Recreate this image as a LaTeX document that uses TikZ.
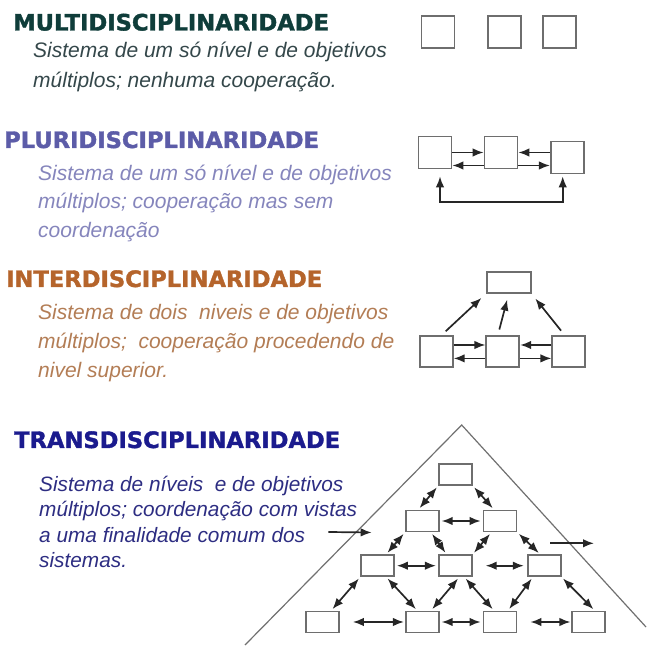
\documentclass[tikz,border=0pt]{standalone}
\usepackage{fontspec}
\usepackage{tikz}
\usetikzlibrary{shapes,arrows.meta}
\usetikzlibrary{calc}
\newfontfamily\headfont[FakeBold=1.6]{DejaVu Sans Bold}
\newfontfamily\bodyfont{Liberation Sans}
\definecolor{multihead}{HTML}{0F3D3A}
\definecolor{multibody}{HTML}{34474A}
\definecolor{plurihead}{HTML}{5C5CA8}
\definecolor{pluribody}{HTML}{8585BC}
\definecolor{interhead}{HTML}{B5642B}
\definecolor{interbody}{HTML}{B37D55}
\definecolor{transhead}{HTML}{1B1B8E}
\definecolor{transbody}{HTML}{2D2D82}
\definecolor{boxgray}{HTML}{6E6E6E}
\definecolor{arrowgray}{HTML}{262626}
\definecolor{edgegray}{HTML}{707070}
\tikzstyle{heading} = [anchor=base west, inner sep=0pt,
    font=\headfont\fontsize{22.6}{24}\selectfont]
\tikzstyle{desc} = [anchor=base west, inner sep=0pt, align=left,
    font=\bodyfont\itshape\fontsize{21}{30}\selectfont]
\tikzstyle{sqbox} = [rectangle, draw=boxgray, line width=1.7pt,
    minimum width=33pt, minimum height=32pt, inner sep=0pt]
\tikzstyle{flatbox} = [sqbox, minimum height=21pt]
\tikzstyle{line} = [draw, arrowgray, line width=1.7pt, -{Latex[length=11pt,width=8.5pt]}]
\tikzstyle{both} = [draw, arrowgray, line width=1.7pt, {Latex[length=11pt,width=8.5pt]}-{Latex[length=11pt,width=8.5pt]},
    shorten <=2pt, shorten >=2pt]
\tikzstyle{rim} = [draw, edgegray, line width=1.2pt]

\begin{document}
\begin{tikzpicture}[x=1pt, y=1pt]
    \useasboundingbox (0,0) rectangle (648,661);
    % Place nodes (text nodes sit on the baseline of their last line)
    \node [heading, text=multihead] (multi) at (13,630.5) {MULTIDISCIPLINARIDADE};
    \node [desc, text=multibody] (multitxt) at (33,573.5)
        {Sistema de um só nível e de objetivos\\ múltiplos; nenhuma cooperação.};
    \node [heading, text=plurihead] (pluri) at (4,513) {PLURIDISCIPLINARIDADE};
    \node [desc, text=pluribody, font=\bodyfont\itshape\fontsize{21}{28.5}\selectfont] (pluritxt) at (38,423.5)
        {Sistema de um só nível e de objetivos\\ múltiplos; cooperação mas sem\\ coordenação};
    \node [heading, text=interhead] (inter) at (6,374) {INTERDISCIPLINARIDADE};
    \node [desc, text=interbody, font=\bodyfont\itshape\fontsize{21}{29}\selectfont] (intertxt) at (38,283.5)
        {Sistema de dois~ niveis e de objetivos\\ múltiplos;~ cooperação procedendo de\\ nivel superior.};
    \node [heading, text=transhead] (trans) at (14,213) {TRANSDISCIPLINARIDADE};
    \node [desc, text=transbody, font=\bodyfont\itshape\fontsize{20.8}{25.5}\selectfont] (transtxt) at (39,93)
        {Sistema de níveis~ e de objetivos\\ múltiplos; coordenação com vistas\\ a uma finalidade comum dos\\ sistemas.};

    \node [sqbox] (m1) at (438,629.3) {};
    \node [sqbox, right of=m1, node distance=66.5pt] (m2) {};
    \node [sqbox, right of=m2, node distance=55.2pt] (m3) {};

    \node [sqbox] (p1) at (435,508.5) {};
    \node [sqbox, right of=p1, node distance=66pt] (p2) {};
    \node [sqbox] (p3) at (567.3,503.5) {};

    \node [sqbox, minimum height=31pt] (i1) at (436.3,309.3) {};
    \node [sqbox, minimum height=31pt, right of=i1, node distance=66.5pt] (i2) {};
    \node [sqbox, minimum height=31pt, right of=i2, node distance=66pt] (i3) {};
    \node [flatbox, minimum width=44pt] (i0) at (508.7,378.5) {};

    \coordinate (apex) at (461.7,236);
    \coordinate (footl) at (245,16);
    \coordinate (footr) at (646,34);
    \node [flatbox] (t1) at (455.5,186.5) {};
    \node [flatbox] (t2a) at (422.3,140) {};
    \node [flatbox, right of=t2a, node distance=77.7pt] (t2b) {};
    \node [flatbox] (t3a) at (377.5,95.3) {};
    \node [flatbox, right of=t3a, node distance=77.8pt] (t3b) {};
    \node [flatbox, right of=t3b, node distance=88.9pt] (t3c) {};
    \node [flatbox] (t4a) at (322.5,39) {};
    \node [flatbox, right of=t4a, node distance=99.8pt] (t4b) {};
    \node [flatbox, right of=t4b, node distance=77.7pt] (t4c) {};
    \node [flatbox, right of=t4c, node distance=88.8pt] (t4d) {};
    \coordinate (inl) at (328.3,129);
    \coordinate (inr) at (371.7,128.5);
    \coordinate (outl) at (550,117.7);
    \coordinate (outr) at (594,117.7);

    % Draw edges
    \path [line] (p1.east) -- (p2.west);
    \path [line] ($(p3.west)+(0,5)$) -- (p2.east);
    \path [line] ($(p2.west)+(0,-13)$) -- ($(p1.east)+(0,-13)$);
    \path [line] ($(p2.east)+(0,-13)$) -- ($(p3.west)+(0,-8)$);
    \path [both, shorten <=7pt, shorten >=2pt] ([xshift=5pt]p1.south) -- ++(0,-32.7) -| ([xshift=-4.6pt]p3.south);

    \path [line] ($(i1.east)+(0,6.7)$) -- ($(i2.west)+(0,6.7)$);
    \path [line] ($(i3.west)+(0,6.7)$) -- ($(i2.east)+(0,6.7)$);
    \path [line] ($(i2.west)+(0,-6.7)$) -- ($(i1.east)+(0,-6.7)$);
    \path [line] ($(i2.east)+(0,-6.7)$) -- ($(i3.west)+(0,-6.7)$);
    \path [line, shorten <=6pt, shorten >=6pt] ([xshift=5pt]i1.north) -- (i0.south west);
    \path [line, shorten <=6pt, shorten >=6pt] ([xshift=-5pt]i2.north) -- (i0.south);
    \path [line, shorten <=6pt, shorten >=6pt] ([xshift=-4pt]i3.north) -- (i0.south east);

    \draw [rim] (footl) -- (apex) -- (footr);
    \path [line] (inl) -- (inr);
    \path [line] (outl) -- (outr);
    \path [both] (t1.south west) -- ([xshift=-4pt]t2a.north);
    \path [both] (t1.south east) -- ([xshift=-6pt]t2b.north);
    \path [both] (t2a.east) -- (t2b.west);
    \path [both] (t2a.south west) -- ($(t3a.north)!.5!(t3a.north east)$);
    \path [both] ($(t2a.south)!.5!(t2a.south east)$) -- ($(t3b.north)!.5!(t3b.north west)$);
    \path [both] ($(t2b.south)!.5!(t2b.south west)$) -- (t3b.north east);
    \path [both] (t2b.south east) -- ([xshift=-4pt]t3c.north);
    \path [both] (t3a.east) -- (t3b.west);
    \path [both, shorten <=13pt, shorten >=3pt] (t3b.east) -- (t3c.west);
    \path [both] (t3a.south west) -- ($(t4a.north)!.5!(t4a.north east)$);
    \path [both] ($(t3a.south)!.5!(t3a.south east)$) -- ([xshift=-5pt]t4b.north);
    \path [both] ([xshift=4pt]t3b.south) -- ($(t4b.north)!.5!(t4b.north east)$);
    \path [both] ([xshift=9pt]t3b.south) -- ([xshift=-6pt]t4c.north);
    \path [both] ([xshift=6pt]t3c.south west) -- ([xshift=8pt]t4c.north);
    \path [both] (t3c.south east) -- ([xshift=6pt]t4d.north);
    \path [both, shorten <=13pt, shorten >=1pt] (t4a.east) -- (t4b.west);
    \path [both] (t4b.east) -- (t4c.west);
    \path [both, shorten <=13pt, shorten >=1pt] (t4c.east) -- (t4d.west);
\end{tikzpicture}
\end{document}
